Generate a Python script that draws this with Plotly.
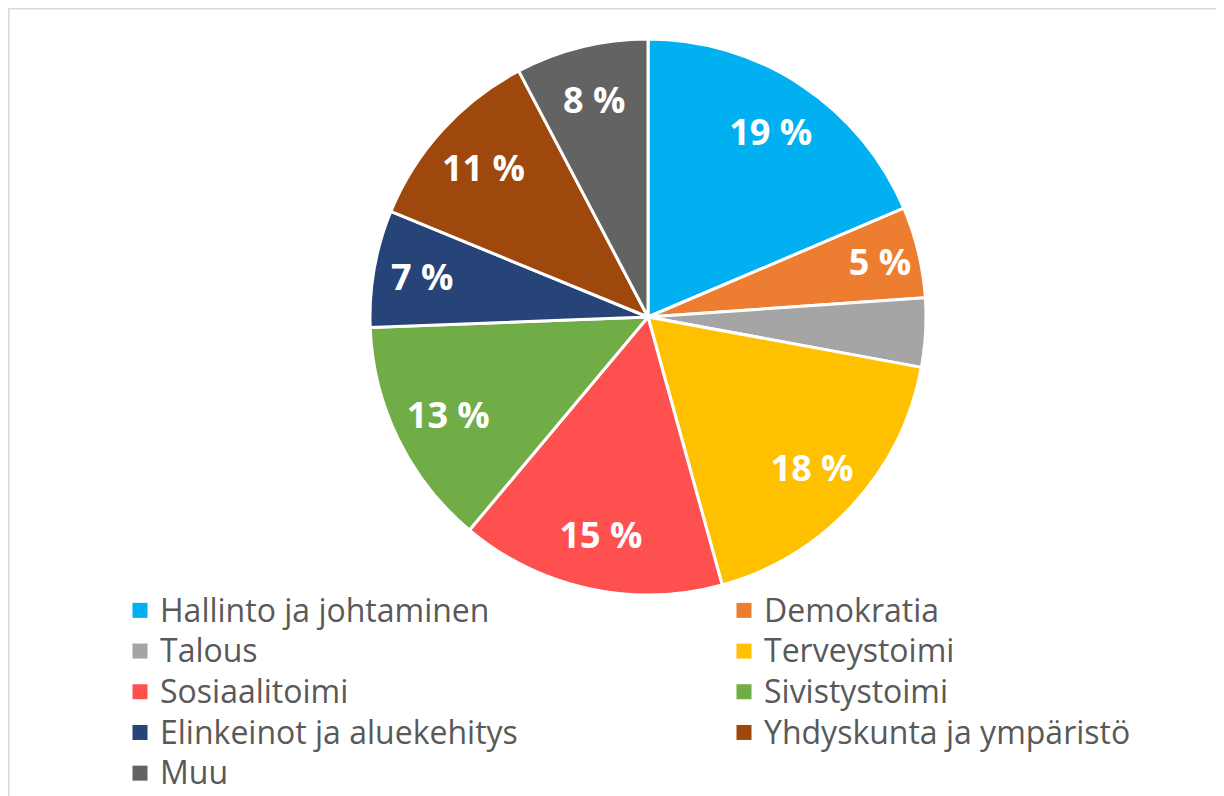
import plotly.graph_objects as go

categories = ["Hallinto ja johtaminen", "Demokratia", "Talous", "Terveystoimi",
              "Sosiaalitoimi", "Sivistystoimi", "Elinkeinot ja aluekehitys",
              "Yhdyskunta ja ympäristö", "Muu"]
values = [18.6, 5.3, 4.0, 17.8, 15.4, 13.3, 6.8, 11.1, 7.7]
label_texts = ["19 %", "5 %", "", "18 %", "15 %", "13 %", "7 %", "11 %", "8 %"]
colors = ["#00B0F0", "#ED7D31", "#A5A5A5", "#FFC000", "#FF5050",
          "#70AD47", "#264478", "#9E480E", "#636363"]

# page body has an 8px margin in the browser
W, H = 1216, 788
cx, cy, r = 640, 309, 278
dom = dict(x=[(cx - r) / W, (cx + r) / W], y=[1 - (cy + r) / H, 1 - (cy - r) / H])

fig = go.Figure()

# the pie itself
fig.add_trace(go.Pie(
    labels=categories, values=values,
    textinfo="none",
    marker=dict(colors=colors, line=dict(color="white", width=3)),
    sort=False, direction="clockwise", rotation=0,
    domain=dom, showlegend=False, hoverinfo="label+percent",
))

# data labels (same slices, transparent ring so labels sit near the rim)
fig.add_trace(go.Pie(
    labels=categories, values=values,
    text=label_texts, texttemplate="%{text}",
    textposition="inside", insidetextorientation="horizontal",
    textfont=dict(family="Open Sans", size=36, color="white", weight="bold"),
    marker=dict(colors=["rgba(0,0,0,0)"] * len(values), line=dict(width=0)),
    sort=False, direction="clockwise", rotation=0, hole=0.6,
    domain=dom, showlegend=False, hoverinfo="skip",
))

# legend entries, two columns
for i, (name, col) in enumerate(zip(categories, colors)):
    fig.add_trace(go.Scatter(
        x=[None], y=[None], mode="markers",
        marker=dict(symbol="square", size=15, color=col),
        name=f'<span style="font-size:32px">{name}</span>',
        legend="legend" if i % 2 == 0 else "legend2",
        hoverinfo="skip",
    ))

leg_common = dict(
    orientation="v", yanchor="top", xanchor="left",
    font=dict(family="Open Sans", size=29, color="#595959"),
    bgcolor="rgba(0,0,0,0)", itemclick=False, itemdoubleclick=False,
    traceorder="normal",
)

fig.update_layout(
    width=W, height=H,
    margin=dict(l=0, r=0, t=0, b=0, autoexpand=False),
    paper_bgcolor="white", plot_bgcolor="white",
    uniformtext=dict(minsize=36, mode="show"),
    xaxis=dict(visible=False), yaxis=dict(visible=False),
    legend=dict(x=112 / W, y=1 - 577 / H, **leg_common),
    legend2=dict(x=716 / W, y=1 - 577 / H, **leg_common),
    shapes=[dict(type="rect", xref="paper", yref="paper",
                 x0=0.8 / W, x1=1.02, y0=-0.02, y1=1 - 0.8 / H,
                 line=dict(color="#D9D9D9", width=1.6), fillcolor="rgba(0,0,0,0)")],
)

fig.write_html("out.html")
